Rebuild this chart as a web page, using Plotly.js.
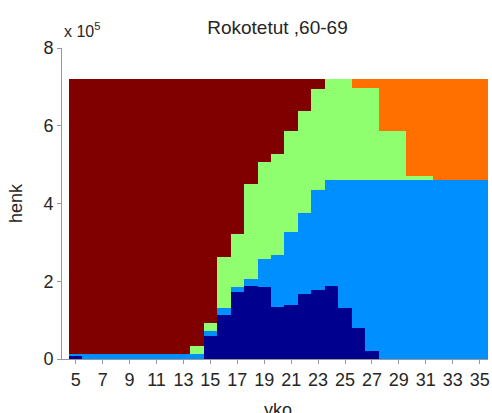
<!DOCTYPE html>
<html>
<head>
<meta charset="utf-8">
<script src="https://cdn.plot.ly/plotly-3.0.1.min.js"></script>
<style>html,body{margin:0;padding:0;background:#fff;}#chart{width:492px;height:413px;}</style>
</head>
<body>
<div id="chart"></div>
<script>
// weeks (viikko)
const weeks = [5,6,7,8,9,10,11,12,13,14,15,16,17,18,19,20,21,22,23,24,25,26,27,28,29,30,31,32,33,34,35,36];
// values in units of 10^5 persons, stacked bottom -> top
const navySeries   = [0.09,0,0,0,0,0,0,0,0,0,0.58,1.14,1.72,1.89,1.84,1.35,1.40,1.68,1.78,1.89,1.31,0.80,0.20,0,0,0,0,0,0,0,0,0];
const blueSeries   = [0.03,0.12,0.12,0.12,0.12,0.12,0.12,0.12,0.12,0.12,0.15,0.17,0.12,0.18,0.74,1.33,1.87,2.08,2.58,2.71,3.29,3.80,4.40,4.60,4.60,4.60,4.60,4.60,4.60,4.60,4.60,4.60];
const greenSeries  = [0,0,0,0,0,0,0,0,0,0.21,0.19,1.31,1.38,2.44,2.49,2.60,2.59,2.61,2.59,2.61,2.61,2.37,2.37,1.26,1.26,0.10,0.10,0,0,0,0,0];
const orangeSeries = [0,0,0,0,0,0,0,0,0,0,0,0,0,0,0,0,0,0,0,0,0,0.24,0.24,1.35,1.35,2.51,2.51,2.61,2.61,2.61,2.61,2.61];
const redSeries    = [7.09,7.09,7.09,7.09,7.09,7.09,7.09,7.09,7.09,6.88,6.29,4.59,3.99,2.70,2.14,1.93,1.35,0.84,0.26,0,0,0,0,0,0,0,0,0,0,0,0,0];
const xTicks = [5,7,9,11,13,15,17,19,21,23,25,27,29,31,33,35];
const yTicks = [0,2,4,6,8];

const series = [
  {y: navySeries, color: '#00008F'},
  {y: blueSeries, color: '#008FFF'},
  {y: greenSeries, color: '#8FFF70'},
  {y: orangeSeries, color: '#FF7000'},
  {y: redSeries, color: '#800000'}
];
const traces = series.map(s => ({
  type: 'bar', x: weeks, y: s.y, width: 1,
  marker: {color: s.color, line: {width: 0}},
  hoverinfo: 'skip', showlegend: false
}));

const font = {family: 'Liberation Sans, Arial, sans-serif', size: 18, color: '#262626'};
const layout = {
  width: 492, height: 413,
  margin: {l: 62, r: 4, t: 48, b: 54},
  paper_bgcolor: '#fff', plot_bgcolor: '#fff',
  barmode: 'stack', bargap: 0,
  font: font,
  title: {text: 'Rokotetut ,60-69', x: 0.564, xanchor: 'center', y: 0.933, yanchor: 'middle', font: {family: font.family, size: 19, color: '#262626'}},
  xaxis: {
    range: [3.98, 35.62], tickvals: xTicks, ticktext: xTicks.map(String),
    showgrid: false, zeroline: false, showline: true, linecolor: '#999', linewidth: 1,
    ticks: 'outside', ticklen: 4, tickcolor: '#999', tickfont: font
  },
  yaxis: {
    range: [0, 8], tickvals: yTicks, ticktext: yTicks.map(String),
    showgrid: false, zeroline: false, showline: true, linecolor: '#999', linewidth: 1,
    ticks: 'outside', ticklen: 4, tickcolor: '#999', tickfont: font,
    title: {text: 'henk', font: font, standoff: 16}
  },
  annotations: [
    {xref: 'paper', yref: 'paper', x: 0, y: 1, xanchor: 'left', yanchor: 'bottom', yshift: 6,
     text: 'x 10<sup>5</sup>', showarrow: false, font: {family: font.family, size: 16, color: '#262626'}},
    {xref: 'paper', yref: 'paper', x: 0.507, y: 0, xanchor: 'center', yanchor: 'top', yshift: -39,
     text: 'yko', showarrow: false, font: font}
  ]
};
Plotly.newPlot('chart', traces, layout, {staticPlot: true, displayModeBar: false});
</script>
</body>
</html>
